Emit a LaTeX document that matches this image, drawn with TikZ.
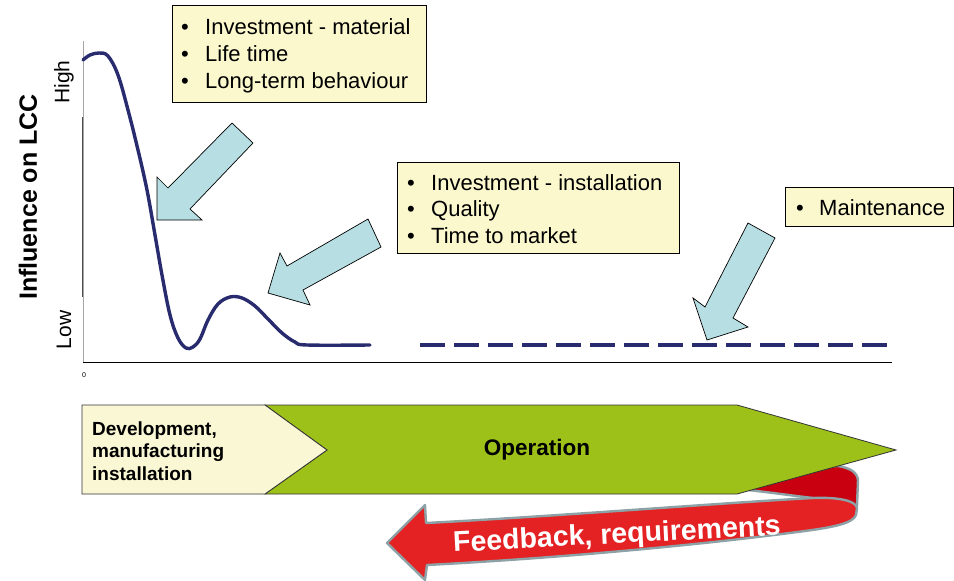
\documentclass[tikz,border=0pt]{standalone}
\usepackage{fontspec}
\setmainfont{Liberation Sans}
\definecolor{navy}{RGB}{40,44,110}
\definecolor{callfill}{RGB}{251,248,205}
\definecolor{arrowfill}{RGB}{183,223,227}
\definecolor{devfill}{RGB}{250,247,212}
\definecolor{opgreen}{RGB}{157,193,24}
\definecolor{ribred}{RGB}{228,34,36}
\definecolor{ribdark}{RGB}{200,0,16}
\definecolor{ribgray}{RGB}{140,162,166}
\begin{document}
\begin{tikzpicture}[x=1pt,y=-1pt,
  curveline/.style={draw=navy, line width=3.4pt, line join=round, line cap=round},
  callout/.style={draw=black, fill=callfill, line width=0.7pt, inner sep=0pt, anchor=north west},
  calltext/.style={anchor=west, align=left, inner sep=0pt},
  bluearrow/.style={draw=black, fill=arrowfill, line width=0.7pt, line join=miter},
  phase/.style={draw=black!80, line width=0.8pt, line join=miter},
  ribbon/.style={draw=ribgray, line width=2.4pt, line join=round},
  axislabel/.style={rotate=90, inner sep=0pt, font=\fontsize{21}{24}\selectfont}
]
\useasboundingbox (0,0) rectangle (954,581);
\fill[white] (0,0) rectangle (954,581);

% axes
\draw[gray!70, line width=0.8pt] (83,41) -- (83,362);
\draw[black!70, line width=1pt] (82,117) -- (82,297);
\draw[black, line width=1pt] (83,362) -- (892,362);
\node[inner sep=0pt, font=\fontsize{7}{8}\selectfont] (zero) at (84,375) {0};

% axis labels
\node[axislabel] (high) at (64,82) {High};
\node[axislabel] (low) at (64,330) {Low};
\node[rotate=90, inner sep=0pt, font=\bfseries\fontsize{25}{28}\selectfont] (ylab) at (28,197) {Influence on LCC};

% curve
\draw[curveline] plot[smooth, tension=0.6] coordinates {
 (83,60) (90,55) (99,53) (108,56) (118,75) (128,110) (138,150) (147,190) (155,235)
 (162,275) (170,315) (178,338) (186,348) (193,347) (200,339) (208,320) (218,304)
 (230,297) (242,298) (255,306) (268,319) (282,333) (295,342) (307,345) (370,345)};
\draw[navy, line width=3.4pt, dash pattern=on 25pt off 9pt] (420,345) -- (892,345);

% callouts
\node[callout, minimum width=254pt, minimum height=97pt] (box1) at (172,5) {};
\node[calltext, font=\fontsize{22}{27}\selectfont] (txt1) at (181,56) {%
\makebox[24pt][l]{\textbullet}Investment - material\\
\makebox[24pt][l]{\textbullet}Life time\\
\makebox[24pt][l]{\textbullet}Long-term behaviour};

\node[callout, minimum width=282pt, minimum height=91pt] (box2) at (397,162) {};
\node[calltext, font=\fontsize{22}{26.5}\selectfont] (txt2) at (407,209) {%
\makebox[24pt][l]{\textbullet}Investment - installation\\
\makebox[24pt][l]{\textbullet}Quality\\
\makebox[24pt][l]{\textbullet}Time to market};

\node[callout, minimum width=168pt, minimum height=39pt] (box3) at (785,187) {};
\node[calltext, font=\fontsize{22}{26}\selectfont] (txt3) at (796,208) {%
\makebox[23pt][l]{\textbullet}Maintenance};

% blue arrows
\draw[bluearrow] (232,123) -- (253,143) -- (190,209) -- (202,220) -- (157,220) -- (157,177) -- (168,188) -- cycle;
\draw[bluearrow] (368,219) -- (381,247) -- (303,290) -- (310,305) -- (268,293) -- (280,253) -- (287,266) -- cycle;
\draw[bluearrow] (748,223) -- (775,238) -- (733,318) -- (748,327) -- (707,340) -- (693,298) -- (705,307) -- cycle;

% feedback ribbon, back part
\draw[ribbon, fill=ribdark] (748,490) .. controls (775,493) and (795,496) .. (813,498) -- (857,506) -- (858,480)
  .. controls (857,472) and (850,468) .. (838,466) -- (748,470) -- cycle;

% phases
\draw[phase, fill=opgreen] (265,405) -- (737,405) -- (896,450) -- (737,494) -- (265,494) -- (327,450) -- cycle;
\draw[phase, fill=devfill] (82,405) -- (265,405) -- (327,450) -- (265,494) -- (82,494) -- cycle;
\node[anchor=west, align=left, inner sep=0pt, font=\bfseries\fontsize{19}{22.5}\selectfont] (dev) at (92,451) {Development,\\manufacturing\\installation};
\node[inner sep=0pt, font=\bfseries\fontsize{22.5}{24}\selectfont] (op) at (537,450) {Operation};

% feedback ribbon, front part
\draw[ribbon, fill=ribred] (387,543) -- (425,505) -- (426,523)
  .. controls (560,516) and (720,503) .. (813,498)
  .. controls (835,497) and (856,500) .. (857,508) -- (856,515)
  .. controls (853,523) and (835,527) .. (805,531)
  .. controls (700,545) and (560,558) .. (427,565) -- (425,580) -- cycle;
\node[rotate=3, inner sep=0pt, text=white, font=\bfseries\fontsize{28.5}{30}\selectfont] (fb) at (617,536) {Feedback, requirements};
\end{tikzpicture}
\end{document}
